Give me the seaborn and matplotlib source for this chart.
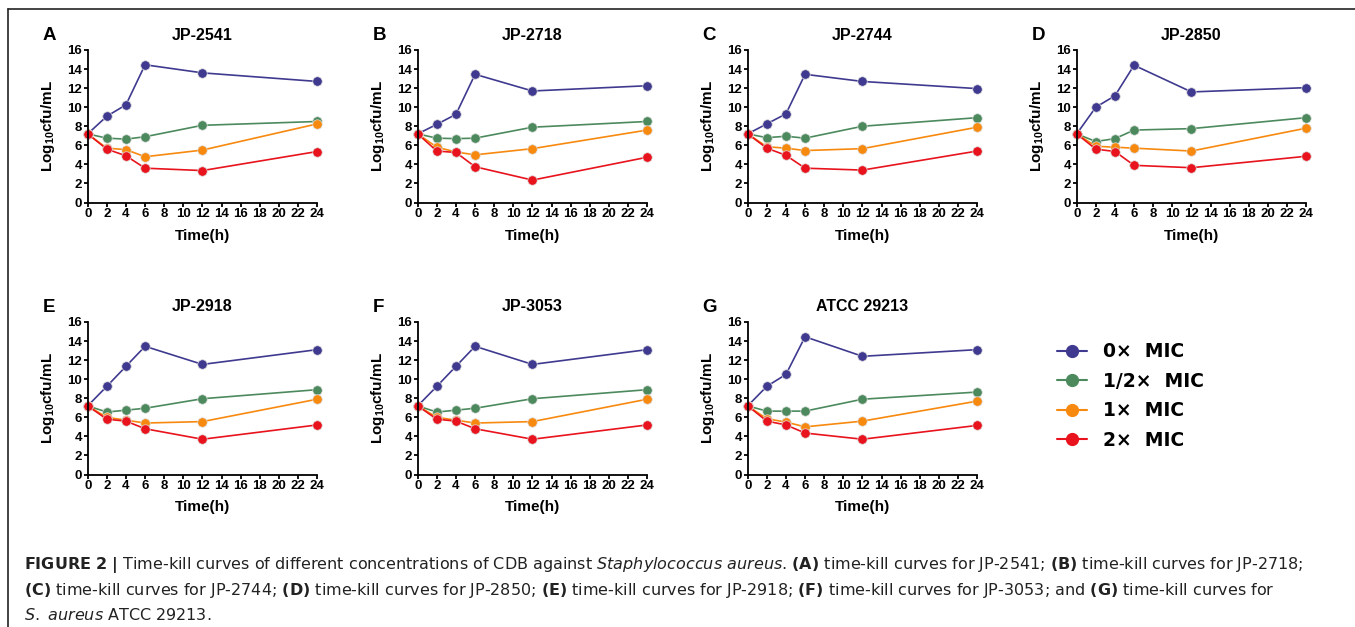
import pandas as pd
import seaborn as sns
from matplotlib import pyplot as plt
from matplotlib.lines import Line2D

# Sampling times (h) and drug concentrations
times = [0, 2, 4, 6, 12, 24]
concentrations = ["0×  MIC", "1/2×  MIC", "1×  MIC", "2×  MIC"]
colors = ["#3f3a8f", "#4c8a5e", "#f7890f", "#e8131c"]

strains = ["JP-2541", "JP-2718", "JP-2744", "JP-2850", "JP-2918", "JP-3053", "ATCC 29213"]
letters = ["A", "B", "C", "D", "E", "F", "G"]

# Log10 cfu/mL, one list per concentration (0x, 1/2x, 1x, 2x MIC)
jp2541 = [
    [7.2, 9.05, 10.25, 14.45, 13.6, 12.7],
    [7.2, 6.75, 6.65, 6.9, 8.1, 8.5],
    [7.2, 5.7, 5.55, 4.8, 5.5, 8.25],
    [7.2, 5.6, 4.9, 3.6, 3.35, 5.35],
]
jp2718 = [
    [7.2, 8.2, 9.25, 13.45, 11.7, 12.25],
    [7.2, 6.75, 6.7, 6.75, 7.9, 8.5],
    [7.2, 5.8, 5.3, 5.0, 5.65, 7.6],
    [7.2, 5.4, 5.25, 3.75, 2.35, 4.75],
]
jp2744 = [
    [7.2, 8.25, 9.3, 13.45, 12.7, 11.95],
    [7.2, 6.8, 6.95, 6.75, 8.0, 8.9],
    [7.2, 5.85, 5.7, 5.45, 5.65, 7.9],
    [7.2, 5.7, 4.95, 3.6, 3.4, 5.4],
]
jp2850 = [
    [7.2, 10.0, 11.2, 14.4, 11.6, 12.05],
    [7.2, 6.4, 6.7, 7.6, 7.75, 8.9],
    [7.2, 5.9, 5.8, 5.7, 5.4, 7.8],
    [7.2, 5.6, 5.35, 3.9, 3.65, 4.85],
]
jp2918 = [
    [7.2, 9.25, 11.35, 13.45, 11.55, 13.1],
    [7.2, 6.55, 6.75, 6.95, 7.95, 8.9],
    [7.2, 6.0, 5.7, 5.4, 5.55, 7.9],
    [7.2, 5.8, 5.6, 4.8, 3.7, 5.2],
]
jp3053 = [
    [7.2, 9.25, 11.35, 13.45, 11.55, 13.1],
    [7.2, 6.55, 6.75, 6.95, 7.95, 8.9],
    [7.2, 6.0, 5.7, 5.4, 5.55, 7.9],
    [7.2, 5.8, 5.6, 4.8, 3.7, 5.2],
]
atcc29213 = [
    [7.2, 9.25, 10.5, 14.45, 12.4, 13.1],
    [7.2, 6.65, 6.65, 6.65, 7.9, 8.65],
    [7.2, 5.85, 5.5, 5.0, 5.6, 7.7],
    [7.2, 5.6, 5.2, 4.35, 3.7, 5.15],
]
strain_data = [jp2541, jp2718, jp2744, jp2850, jp2918, jp3053, atcc29213]

x_ticks = list(range(0, 25, 2))
y_ticks = list(range(0, 17, 2))

sns.set_theme(style="ticks")
plt.rcParams["font.family"] = ["Liberation Sans", "DejaVu Sans"]
plt.rcParams["text.color"] = "black"
plt.rcParams["axes.labelcolor"] = "black"
plt.rcParams["mathtext.fontset"] = "custom"
plt.rcParams["mathtext.rm"] = "DejaVu Sans"
plt.rcParams["mathtext.it"] = "DejaVu Sans:italic"
plt.rcParams["mathtext.bf"] = "DejaVu Sans:bold"
plt.rcParams["mathtext.sf"] = "Liberation Sans:bold"

W, H = 1355, 627
fig = plt.figure(figsize=(W / 100, H / 100), dpi=100)

# axes placement in pixels
lefts = [87.7, 417.7, 747.7, 1076.7, 87.7, 417.7, 747.7]
tops = [50, 50, 50, 50, 322, 322, 322]
ax_w, ax_h = 229.5, 152.5

for i, (strain, values) in enumerate(zip(strains, strain_data)):
    ax = fig.add_axes(
        [lefts[i] / W, 1 - (tops[i] + ax_h) / H, ax_w / W, ax_h / H]
    )

    # Long-form data for seaborn
    rows = []
    for conc, series in zip(concentrations, values):
        for t, v in zip(times, series):
            rows.append({"time": t, "value": v, "conc": conc})
    df = pd.DataFrame(rows)

    sns.lineplot(
        data=df,
        x="time",
        y="value",
        hue="conc",
        hue_order=concentrations,
        palette=colors,
        marker="o",
        markersize=6.8,
        markeredgewidth=0.5,
        markeredgecolor="#dddddd",
        linewidth=1.2,
        legend=False,
        clip_on=False,
        ax=ax,
    )

    ax.set_xlim(0, 24)
    ax.set_ylim(0, 16)
    ax.set_xticks(x_ticks)
    ax.set_yticks(y_ticks)
    sns.despine(ax=ax)
    for side in ["left", "bottom"]:
        ax.spines[side].set_linewidth(1.3)
        ax.spines[side].set_color("black")
    ax.tick_params(
        axis="both", length=3, width=1.3, pad=1, labelsize=9.5, colors="black"
    )
    plt.setp(ax.get_xticklabels(), fontweight="bold")
    plt.setp(ax.get_yticklabels(), fontweight="bold")

    ax.set_xlabel("Time(h)", fontsize=11, fontweight="bold")
    ax.set_ylabel(r"Log$_{\mathsf{10}}$cfu/mL", fontsize=11, fontweight="bold")
    ax.xaxis.label.set_va("center")
    ax.yaxis.label.set_va("center")
    ax.xaxis.set_label_coords(0.5, -33 / ax_h)
    ax.yaxis.set_label_coords(-40 / ax_w, 0.5)

    ax.text(
        0.5, 1 + 15 / ax_h, strain, transform=ax.transAxes,
        ha="center", va="center", fontsize=11.5, fontweight="bold",
    )
    fig.text(
        (lefts[i] - 45) / W, 1 - (tops[i] - 14) / H, letters[i],
        ha="left", va="center", fontsize=13.5, fontweight="bold",
    )

# Shared legend
handles = [
    Line2D([], [], color=c, marker="o", markersize=8.5, linewidth=1.5,
           markeredgecolor=c)
    for c in colors
]
fig.legend(
    handles,
    concentrations,
    loc="center left",
    bbox_to_anchor=(1057 / W, 1 - 396 / H),
    frameon=False,
    handlelength=1.6,
    handletextpad=0.85,
    labelspacing=0.56,
    borderpad=0,
    borderaxespad=0,
    prop={"family": "DejaVu Sans", "size": 13.5, "weight": "bold"},
)

# Caption
caption = [
    r"$\mathbf{FIGURE\ 2\ |}$ Time-kill curves of different concentrations of CDB against "
    r"$\mathit{Staphylococcus\ aureus}$. $\mathbf{(A)}$ time-kill curves for JP-2541; "
    r"$\mathbf{(B)}$ time-kill curves for JP-2718;",
    r"$\mathbf{(C)}$ time-kill curves for JP-2744; $\mathbf{(D)}$ time-kill curves for JP-2850; "
    r"$\mathbf{(E)}$ time-kill curves for JP-2918; $\mathbf{(F)}$ time-kill curves for JP-3053; "
    r"and $\mathbf{(G)}$ time-kill curves for",
    r"$\mathit{S.\ aureus}$ ATCC 29213.",
]
for k, line in enumerate(caption):
    fig.text(24 / W, 1 - (569 + 25.5 * k) / H, line, ha="left", va="baseline",
             fontsize=11.5, color="#222222", family="DejaVu Sans")

# Frame around the figure
fig.add_artist(Line2D([8 / W, 1], [1 - 9 / H, 1 - 9 / H], transform=fig.transFigure,
                      color="#222222", linewidth=1.2))
fig.add_artist(Line2D([8 / W, 8 / W], [0, 1 - 9 / H], transform=fig.transFigure,
                      color="#222222", linewidth=1.2))

fig.savefig("out.png", dpi=100)
